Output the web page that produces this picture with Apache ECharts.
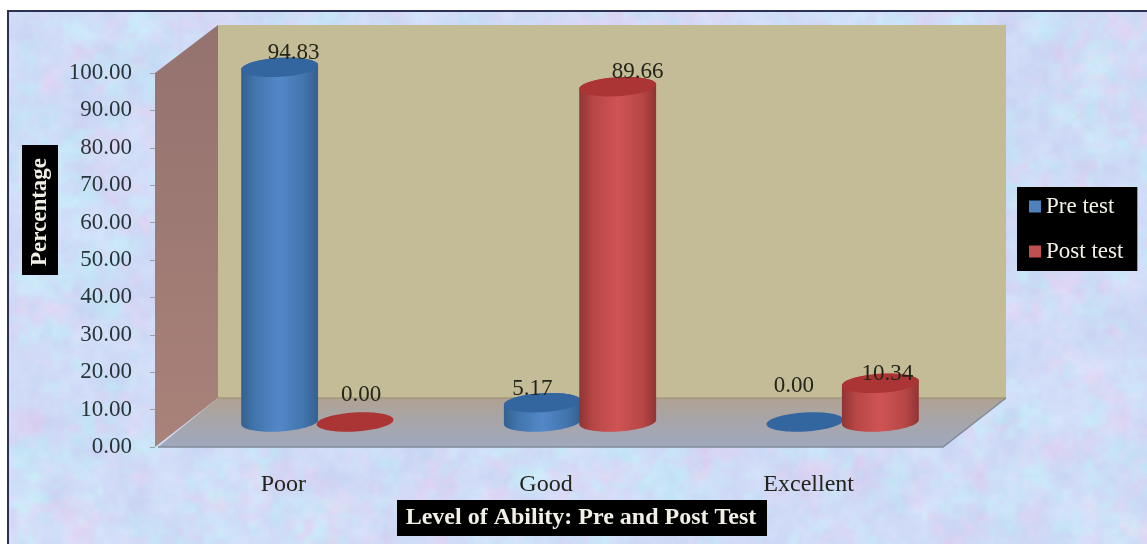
<!DOCTYPE html>
<html>
<head>
<meta charset="utf-8">
<title>Level of Ability: Pre and Post Test</title>
<style>html,body{margin:0;padding:0;background:#fff}#chart{width:1147px;height:544px}</style>
<script src="https://cdn.jsdelivr.net/npm/echarts@6/dist/echarts.min.js"></script>
</head>
<body>
<div id="chart"></div>
<script>
// Percentage of students at each ability level
const categories = ['Poor', 'Good', 'Excellent'];
const preTest = [94.83, 5.17, 0.00];
const postTest = [0.00, 89.66, 10.34];

// Hand placement of the value labels, relative to each cylinder's top face
const preLabelNudge = [[14, -14], [-10, -14], [-11, -36]];
const postLabelNudge = [[6, -27], [20, -15], [7, -9]];

const SERIF = '"Liberation Serif", "Times New Roman", serif';
const DEPTH_X = 63, DEPTH_Y = 49;         // back plane offset of the 3D box
const FLOOR_X = 31, FLOOR_Y = 25;         // cylinder row sits midway into the box
const RADIUS_X = 38.5, RADIUS_Y = 9.5;    // elliptical cross-section
const TILT = -3.5 * Math.PI / 180;        // perspective tilt of the ellipses
const BAR_SHIFT = 37.7;

// Soft marbled paper texture built from deterministic value noise
function hash(x, y, s) {
  const v = Math.sin(x * 127.1 + y * 311.7 + s * 74.7) * 43758.5453;
  return v - Math.floor(v);
}
function noise(x, y, s) {
  const xi = Math.floor(x), yi = Math.floor(y);
  const fx = x - xi, fy = y - yi;
  const u = fx * fx * (3 - 2 * fx), v = fy * fy * (3 - 2 * fy);
  const a = hash(xi, yi, s), b = hash(xi + 1, yi, s);
  const c = hash(xi, yi + 1, s), d = hash(xi + 1, yi + 1, s);
  return a + (b - a) * u + (c - a) * v + (a - b - c + d) * u * v;
}
function fbm(x, y, s) {
  return 0.45 * noise(x / 28, y / 28, s) + 0.33 * noise(x / 11, y / 11, s + 1) + 0.22 * noise(x / 5, y / 5, s + 2);
}
function marble(w, h) {
  const small = document.createElement('canvas');
  const sw = Math.ceil(w / 2), sh = Math.ceil(h / 2);
  small.width = sw; small.height = sh;
  const ctx = small.getContext('2d');
  const img = ctx.createImageData(sw, sh);
  const clamp = v => Math.max(0, Math.min(1, v));
  for (let j = 0; j < sh; j++) {
    for (let i = 0; i < sw; i++) {
      const x = i * 2, y = j * 2;
      const cyan = clamp((fbm(x, y, 3) - 0.45) * 3);
      const pink = clamp((fbm(x + 900, y, 11) - 0.52) * 3.5);
      const light = fbm(x, y + 700, 23) - 0.5;
      let r = 208 + (198 - 208) * cyan, g = 219 + (231 - 219) * cyan, b = 247;
      r += (230 - r) * pink * 0.6; g += (208 - g) * pink * 0.6; b += (240 - b) * pink * 0.6;
      const o = (j * sw + i) * 4;
      img.data[o] = r + light * 20;
      img.data[o + 1] = g + light * 20;
      img.data[o + 2] = b + light * 10;
      img.data[o + 3] = 255;
    }
  }
  ctx.putImageData(img, 0, 0);
  const full = document.createElement('canvas');
  full.width = w; full.height = h;
  const fc = full.getContext('2d');
  fc.imageSmoothingEnabled = true;
  fc.drawImage(small, 0, 0, w, h);
  return full;
}

function ellipsePoint(cx, cy, t) {
  const ca = Math.cos(t) * RADIUS_X, sb = Math.sin(t) * RADIUS_Y;
  return [cx + ca * Math.cos(TILT) - sb * Math.sin(TILT), cy + ca * Math.sin(TILT) + sb * Math.cos(TILT)];
}
function arc(cx, cy, from, to, n) {
  const pts = [];
  for (let i = 0; i <= n; i++) pts.push(ellipsePoint(cx, cy, from + (to - from) * i / n));
  return pts;
}

function sideGradient(edge, mid, core) {
  return new echarts.graphic.LinearGradient(0, 0, 1, 0, [
    { offset: 0, color: edge }, { offset: 0.18, color: mid }, { offset: 0.5, color: core },
    { offset: 0.82, color: mid }, { offset: 1, color: edge }
  ]);
}

function cylinderRenderer(side, colors, nudges) {
  return function (params, api) {
    const cat = api.value(0), val = api.value(1);
    const top = api.coord([cat, val]), base = api.coord([cat, 0]);
    const cx = top[0] + side * BAR_SHIFT + FLOOR_X;
    const ty = top[1] - FLOOR_Y, by = base[1] - FLOOR_Y;
    const children = [];
    if (val > 0) {
      children.push({
        type: 'polygon',
        shape: { points: arc(cx, by, Math.PI, 0, 40).concat(arc(cx, ty, 0, -Math.PI, 40)) },
        style: { fill: sideGradient(colors.edge, colors.mid, colors.core) }
      });
    }
    children.push({
      type: 'polygon',
      shape: { points: arc(cx, ty, 0, 2 * Math.PI, 72) },
      style: { fill: colors.cap }
    });
    const n = nudges[cat];
    children.push({
      type: 'text',
      z2: 10,
      style: {
        x: cx + n[0], y: ty + n[1],
        text: val.toFixed(2),
        font: '23px ' + SERIF,
        fill: '#24241a',
        align: 'center',
        verticalAlign: 'middle'
      }
    });
    return { type: 'group', children };
  };
}

// Walls and floor of the 3D box, derived from the plot rectangle
function renderBox(params, api) {
  const origin = api.coord([0, 0]);
  const ceiling = api.coord([0, 100]);
  const left = params.coordSys.x, right = left + params.coordSys.width;
  const y0 = origin[1], y1 = ceiling[1];
  return {
    type: 'group',
    children: [
      { type: 'polygon',
        shape: { points: [[left + DEPTH_X, y1 - DEPTH_Y + 1], [right + DEPTH_X, y1 - DEPTH_Y + 1], [right + DEPTH_X, y0 - DEPTH_Y], [left + DEPTH_X, y0 - DEPTH_Y]] },
        style: { fill: '#c4bc96' } },
      { type: 'polygon',
        shape: { points: [[left, y1], [left + DEPTH_X, y1 - DEPTH_Y + 1], [left + DEPTH_X, y0 - DEPTH_Y], [left, y0]] },
        style: { fill: new echarts.graphic.LinearGradient(0, 0, 0, 1, [
          { offset: 0, color: '#94726f' }, { offset: 1, color: '#a98279' }]) } },
      { type: 'polygon',
        shape: { points: [[left + 3, y0], [left + DEPTH_X, y0 - DEPTH_Y], [right + DEPTH_X, y0 - DEPTH_Y], [right, y0]] },
        style: { fill: new echarts.graphic.LinearGradient(0, 0, 0, 1, [
          { offset: 0, color: '#b0a292' }, { offset: 0.45, color: '#a8a5a8' }, { offset: 1, color: '#9fa8be' }]) } },
      { type: 'polyline',
        shape: { points: [[left + DEPTH_X, y0 - DEPTH_Y], [right + DEPTH_X, y0 - DEPTH_Y]] },
        style: { fill: 'none', stroke: '#9a8c6c', lineWidth: 1 } },
      { type: 'polyline',
        shape: { points: [[left + 3, y0], [right, y0], [right + DEPTH_X, y0 - DEPTH_Y]] },
        style: { fill: 'none', stroke: '#808a98', lineWidth: 1.5 } }
    ]
  };
}

const chart = echarts.init(document.getElementById('chart'), null, { renderer: 'canvas' });
const pairs = arr => arr.map((v, i) => [i, v]);
const blue = { edge: '#33608f', mid: '#4275ad', core: '#5388c8', cap: '#33659f' };
const red = { edge: '#903434', mid: '#b84646', core: '#cf5454', cap: '#ab3535' };

chart.setOption({
  animation: false,
  backgroundColor: { image: marble(1147, 544), repeat: 'no-repeat' },
  grid: { left: 155, right: 204, top: 73, bottom: 97, containLabel: false },
  legend: {
    data: ['Pre test', 'Post test'],
    orient: 'vertical',
    left: 1017, top: 187,
    backgroundColor: '#000',
    padding: [8, 14, 8, 12],
    icon: 'rect',
    itemWidth: 12, itemHeight: 12, itemGap: 22,
    textStyle: { color: '#f4f2e8', fontFamily: SERIF, fontSize: 23 }
  },
  xAxis: {
    type: 'category',
    data: categories,
    axisLine: { show: false },
    axisTick: { show: false },
    axisLabel: { color: '#24241c', fontFamily: SERIF, fontSize: 24, margin: 26, padding: [0, 6, 0, 0] }
  },
  yAxis: {
    type: 'value',
    min: 0, max: 100, interval: 10,
    splitLine: { show: false },
    axisLine: { show: false },
    axisTick: { show: true, length: 5, lineStyle: { color: '#9aa0a8', width: 1 } },
    axisLabel: {
      color: '#28343a', fontFamily: SERIF, fontSize: 23, margin: 23,
      formatter: v => v.toFixed(2)
    }
  },
  graphic: [
    { type: 'rect', shape: { x: 0, y: 0, width: 1147, height: 10 }, style: { fill: '#fff' }, silent: true },
    { type: 'rect', shape: { x: 0, y: 0, width: 7, height: 544 }, style: { fill: '#fff' }, silent: true },
    { type: 'rect', shape: { x: 7, y: 10, width: 1140, height: 2 }, style: { fill: '#2c3154' }, silent: true },
    { type: 'rect', shape: { x: 7, y: 10, width: 2, height: 534 }, style: { fill: '#2c3154' }, silent: true },
    { type: 'rect', shape: { x: 397, y: 500, width: 370, height: 36 }, style: { fill: '#000' }, silent: true },
    { type: 'text', style: { x: 581, y: 518, text: 'Level of Ability: Pre and Post Test',
        font: 'bold 24px ' + SERIF, fill: '#f2f0e6', align: 'center', verticalAlign: 'middle' }, z: 2 },
    { type: 'rect', shape: { x: 22, y: 145, width: 36, height: 130 }, style: { fill: '#000' }, silent: true },
    { type: 'text', x: 40, y: 212, rotation: Math.PI / 2,
      style: { x: 0, y: 0, text: 'Percentage',
        font: 'bold 23px ' + SERIF, fill: '#f2f0e6', align: 'center', verticalAlign: 'middle' }, z: 2 }
  ],
  series: [
    { type: 'custom', name: 'box', silent: true, z: 1, clip: false, data: [[0, 0]], renderItem: renderBox, encode: { x: 0, y: 1 } },
    { type: 'custom', name: 'Pre test', z: 3, clip: false, itemStyle: { color: '#4f81bd' }, data: pairs(preTest),
      renderItem: cylinderRenderer(-1, blue, preLabelNudge), encode: { x: 0, y: 1 } },
    { type: 'custom', name: 'Post test', z: 4, clip: false, itemStyle: { color: '#c0504d' }, data: pairs(postTest),
      renderItem: cylinderRenderer(1, red, postLabelNudge), encode: { x: 0, y: 1 } }
  ]
});
</script>
</body>
</html>
